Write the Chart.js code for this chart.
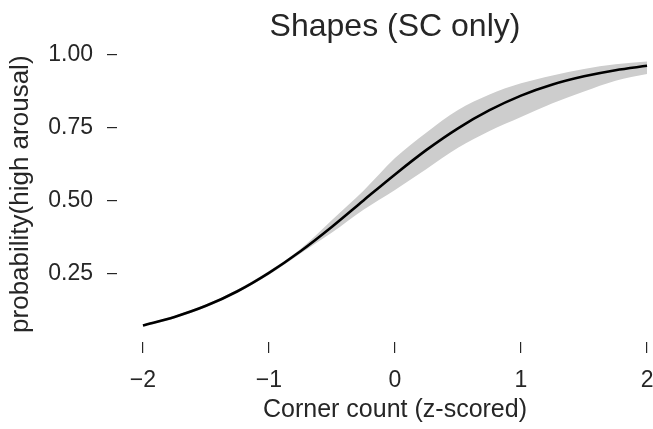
<!DOCTYPE html>
<html>
<head>
<meta charset="utf-8">
<script src="https://cdn.jsdelivr.net/npm/chart.js@4"></script>
<style>
    html, body { margin: 0; padding: 0; background: #fff; overflow: hidden; }
    .chart-wrap { position: relative; width: 673px; height: 429px; }
</style>
</head>
<body>
<div class="chart-wrap"><canvas id="shapesChart"></canvas></div>
<script>
// corner count (z-scored) and the fitted probability
const cornerZ = [-2, -1.75, -1.5, -1.25, -1, -0.75, -0.5, -0.25, 0, 0.25, 0.5, 0.75, 1, 1.25, 1.5, 1.75, 2];
const probMean = [0.074, 0.103, 0.141, 0.191, 0.254, 0.328, 0.412, 0.502, 0.591, 0.675, 0.749, 0.811, 0.861, 0.899, 0.927, 0.948, 0.963];
const probLow = [0.070, 0.098, 0.136, 0.186, 0.247, 0.320, 0.392, 0.470, 0.538, 0.610, 0.682, 0.740, 0.788, 0.835, 0.875, 0.912, 0.935];
const probHigh = [0.078, 0.107, 0.146, 0.197, 0.260, 0.336, 0.435, 0.535, 0.647, 0.735, 0.812, 0.865, 0.903, 0.930, 0.952, 0.968, 0.978];
const xTickValues = [-2, -1, 0, 1, 2];
const yTickValues = [0.25, 0.5, 0.75, 1.0];

const toPoints = vals => cornerZ.map((x, i) => ({ x: x, y: vals[i] }));
const inkColor = '#262626';
const fontFamily = '"Liberation Sans", Arial, sans-serif';

const ctx = document.getElementById('shapesChart').getContext('2d');
new Chart(ctx, {
    type: 'line',
    data: {
        datasets: [
            {
                label: 'mean',
                data: toPoints(probMean),
                borderColor: '#000',
                borderWidth: 2.6,
                pointRadius: 0,
                cubicInterpolationMode: 'monotone',
                fill: false,
                order: 0
            },
            {
                label: 'ci low',
                data: toPoints(probLow),
                borderWidth: 0,
                pointRadius: 0,
                cubicInterpolationMode: 'monotone',
                fill: false,
                order: 2
            },
            {
                label: 'ci high',
                data: toPoints(probHigh),
                borderWidth: 0,
                pointRadius: 0,
                cubicInterpolationMode: 'monotone',
                backgroundColor: 'rgb(205, 205, 205)',
                fill: 1,
                order: 1
            }
        ]
    },
    options: {
        responsive: true,
        maintainAspectRatio: false,
        animation: false,
        layout: { padding: 0 },
        plugins: {
            legend: { display: false },
            tooltip: { enabled: false },
            title: {
                display: true,
                text: 'Shapes (SC only)',
                color: inkColor,
                fullSize: false,
                font: { family: fontFamily, size: 32, weight: 'normal', lineHeight: 1.2 },
                padding: { top: 8, bottom: 0 }
            }
        },
        scales: {
            x: {
                type: 'linear',
                min: -2.206,
                max: 2.206,
                border: { display: false },
                grid: { drawOnChartArea: false, drawTicks: true, tickLength: 11, color: inkColor, lineWidth: 1.2 },
                afterBuildTicks: axis => { axis.ticks = xTickValues.map(v => ({ value: v })); },
                afterFit: axis => { axis.height = 87; },
                ticks: {
                    color: inkColor,
                    padding: 14,
                    font: { family: fontFamily, size: 23 },
                    callback: v => (v < 0 ? '\u2212' + Math.abs(v) : String(v))
                },
                title: {
                    display: true,
                    text: 'Corner count (z-scored)',
                    color: inkColor,
                    font: { family: fontFamily, size: 25, lineHeight: 1.2 },
                    padding: { top: 0, bottom: 4 }
                }
            },
            y: {
                type: 'linear',
                min: 0.0171,
                max: 1.0295,
                border: { display: false },
                grid: { drawOnChartArea: false, drawTicks: true, tickLength: 10, color: inkColor, lineWidth: 1.2 },
                afterBuildTicks: axis => { axis.ticks = yTickValues.map(v => ({ value: v })); },
                afterFit: axis => { axis.width = 117; },
                ticks: {
                    color: inkColor,
                    padding: 14,
                    font: { family: fontFamily, size: 23 },
                    callback: v => v.toFixed(2)
                },
                title: {
                    display: true,
                    text: 'probability(high arousal)',
                    color: inkColor,
                    font: { family: fontFamily, size: 26, lineHeight: 1.0 },
                    padding: { top: 8, bottom: 0 }
                }
            }
        }
    }
});
</script>
</body>
</html>
